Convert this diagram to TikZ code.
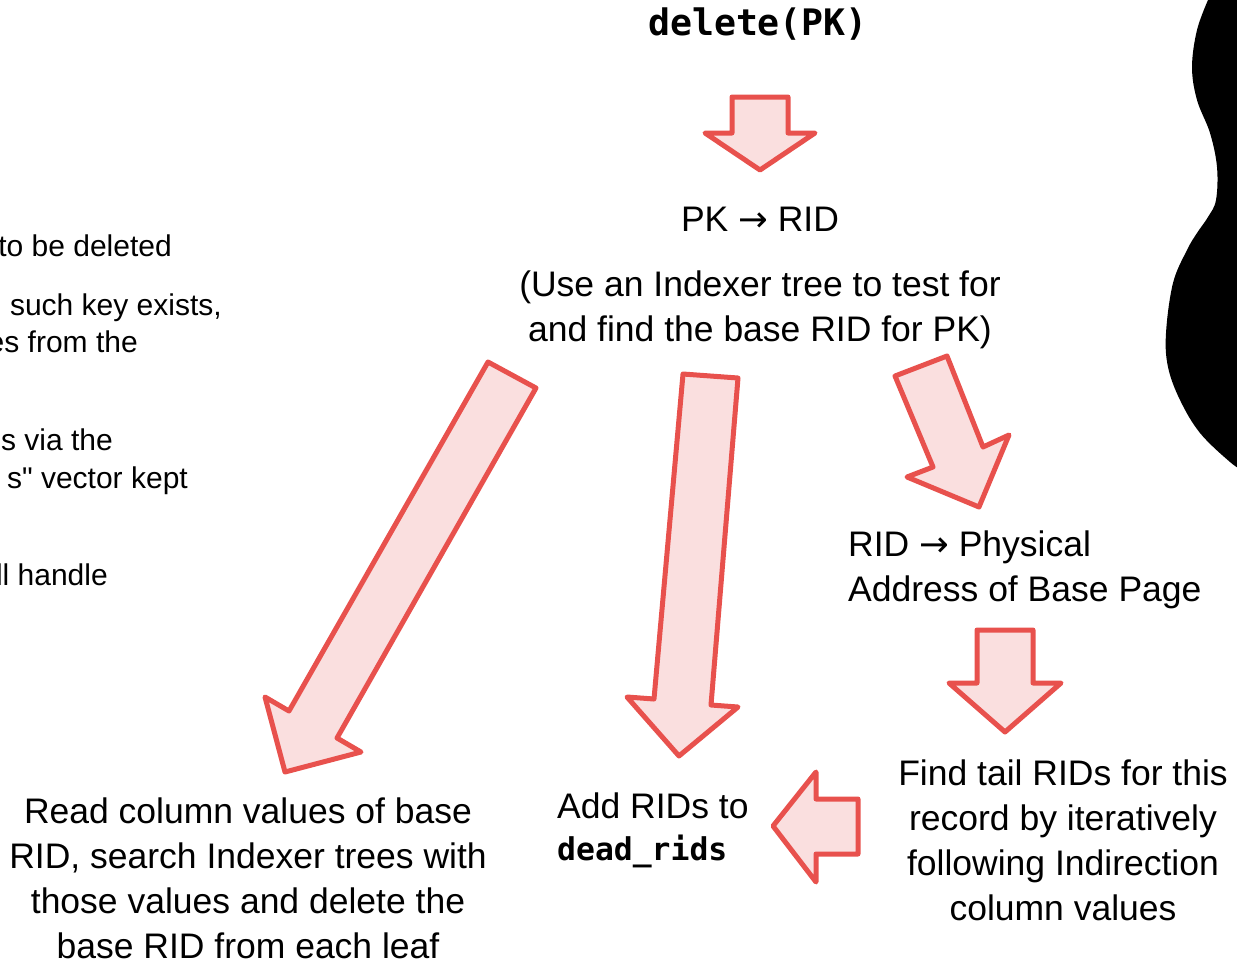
\documentclass[tikz,border=0pt]{standalone}
\usepackage{fontspec}
\setmainfont{Liberation Sans}
\newfontfamily\plainsans{Liberation Sans}
\newfontfamily\arrowfont{DejaVu Sans}
\newfontfamily\codefont{DejaVu Sans Mono}
\newcommand\mapsarrow{{\arrowfont →}}
\definecolor{arrowred}{HTML}{E8514D}
\definecolor{arrowfill}{HTML}{FADFDF}
\begin{document}
\begin{tikzpicture}[x=1pt,y=-1pt,
  blockarrow/.style={draw=arrowred, fill=arrowfill, line width=5pt, line join=round},
  stepnote/.style={inner sep=0pt, font=\fontsize{35.5}{45}\selectfont, align=center},
  sidenote/.style={inner sep=0pt, anchor=base east, font=\plainsans\fontsize{30}{38}\selectfont},
  codetext/.style={font=\codefont\bfseries\fontsize{36.5}{42}\selectfont}
]
\useasboundingbox (0,0) rectangle (1237,962);
\clip (0,0) rectangle (1237,962);

% dark shape at the right edge
\fill[black] (1245,0) -- (1208,0) --
  plot[smooth, tension=0.6] coordinates {(1208,0) (1197,30) (1192,67) (1197,100) (1210,133) (1217,167) (1216,200) (1208,217) (1197,233) (1187,250) (1173,283) (1166,333) (1168,367) (1180,400) (1200,433) (1230,462) (1245,472)}
  -- cycle;

% notes whose beginnings run off the left edge
\node[sidenote] (n1) at (172,256) {to be deleted};
\node[sidenote] (n2) at (222,315) {such key exists,};
\node[sidenote] (n3) at (138,352) {es from the};
\node[sidenote] (n4) at (113,450) {s via the};
\node[sidenote] (n5) at (188,488) {s" vector kept};
\node[sidenote] (n6) at (108,585) {ll handle};

% step texts (base anchor = baseline of the last line)
\node[codetext, inner sep=0pt, anchor=base] (call) at (758,35) {delete(PK)};
\node[stepnote, anchor=base] (lookup) at (760,231) {PK \mapsarrow\ RID};
\node[stepnote, anchor=base] (lookupnote) at (760,341) {(Use an Indexer tree to test for\\and find the base RID for PK)};
\node[stepnote, align=left, anchor=base west] (addr) at (848,601) {RID \mapsarrow\ Physical\\Address of Base Page};
\node[stepnote, anchor=base] (tails) at (1063,920) {Find tail RIDs for this\\record by iteratively\\following Indirection\\column values};
\node[stepnote, align=left, anchor=base west] (dead) at (557,860) {Add RIDs to\\[-3pt]{\codefont\bfseries\fontsize{31.4}{42}\selectfont dead\_rids}};
\node[stepnote, anchor=base] (indexes) at (248,958) {Read column values of base\\RID, search Indexer trees with\\those values and delete the\\base RID from each leaf};

% block arrows between the steps
\draw[blockarrow] (732,97) -- (788,97) -- (788,133) -- (815,133) -- (760,170) -- (705,133) -- (732,133) -- cycle;
\draw[blockarrow] (488,362) -- (536,388) -- (337,738) -- (361,752) -- (285,772) -- (265,697) -- (289,711) -- cycle;
\draw[blockarrow] (683,374) -- (738,378) -- (711,705) -- (738,707) -- (679,756) -- (627,697) -- (654,699) -- cycle;
\draw[blockarrow] (895,376) -- (947,356) -- (983,447) -- (1009,435) -- (979,507) -- (907,477) -- (933,467) -- cycle;
\draw[blockarrow] (977,630) -- (1033,630) -- (1033,683) -- (1061,683) -- (1005,732) -- (949,683) -- (977,683) -- cycle;
\draw[blockarrow] (773,826) -- (816,772) -- (816,799) -- (858,799) -- (858,854) -- (816,854) -- (816,882) -- cycle;
\end{tikzpicture}
\end{document}
